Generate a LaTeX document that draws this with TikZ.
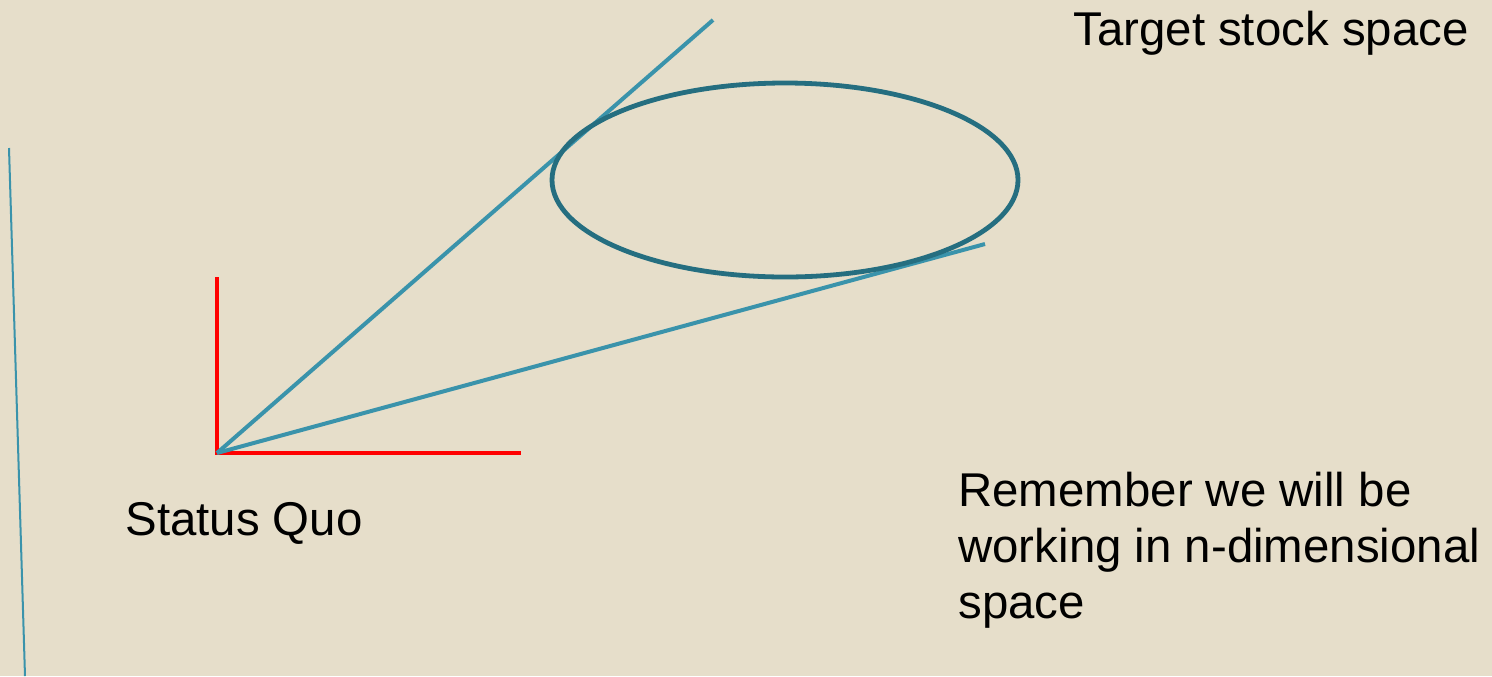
\documentclass[tikz,border=0pt]{standalone}
\usepackage{fontspec}
\setmainfont{Liberation Sans}
\definecolor{bg}{HTML}{E6DECA}
\definecolor{rayblue}{HTML}{3A93AB}
\definecolor{ellteal}{HTML}{256E80}
\begin{document}
\begin{tikzpicture}[x=0.5pt,y=-0.5pt,
  ray/.style={draw=rayblue,line width=2pt},
  axis/.style={draw=red,line width=2pt},
  lbl/.style={font=\fontsize{23.7}{28}\selectfont,anchor=base west,inner sep=0pt,align=left}]
\fill[bg] (0,0) rectangle (1492,676);
\useasboundingbox (0,0) rectangle (1492,676);
% left thin line
\coordinate (lt) at (9,148);
\coordinate (lb) at (25,676);
\draw[rayblue,line width=1pt] (lt) -- (lb);
% axes
\coordinate (o) at (217,453);
\coordinate (ay) at (217,277);
\coordinate (ax) at (521,453);
\draw[axis] (ay) -- (o) -- (ax);
% rays
\coordinate (r1) at (713,20);
\coordinate (r2) at (985,244);
\draw[ray] (o) -- (r1);
\draw[ray] (o) -- (r2);
% target ellipse
\coordinate (ec) at (785,180);
\draw[ellteal,line width=2.4pt] (ec) ellipse [x radius=233, y radius=97];
% labels
\node[lbl] (target) at (1073,45) {Target stock space};
\node[lbl] (sq) at (125,535) {Status Quo};
\node[lbl,anchor=north west] (rem) at (958,472) {Remember we will be\\working in n-dimensional\\space};
\end{tikzpicture}
\end{document}
